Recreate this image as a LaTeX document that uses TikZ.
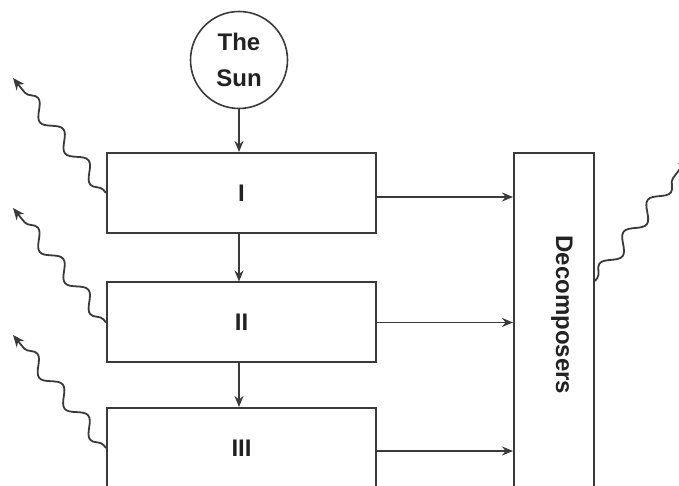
\documentclass[tikz,border=0pt]{standalone}
\usepackage{fontspec}
\setmainfont{Liberation Sans}
\usetikzlibrary{arrows.meta,positioning,decorations.pathmorphing}
\definecolor{ink}{HTML}{3A3A3A}
\definecolor{inktext}{HTML}{222222}
\tikzset{
  levelbox/.style={draw=ink,line width=1pt,minimum width=134.5pt,
                   minimum height=40pt,inner sep=0pt,text=inktext,
                   font=\fontsize{12}{14}\selectfont\bfseries},
  sunnode/.style={circle,draw=ink,line width=0.8pt,minimum size=48.5pt,
                  inner sep=0pt,align=center,text=inktext,
                  font=\fontsize{12}{18}\selectfont\bfseries},
  flowarr/.style={-{Stealth[length=5.5pt,width=4.5pt]},line width=0.9pt,
                  draw=ink},
  heatarr/.style={-{Stealth[length=6pt,width=5pt]},line width=0.9pt,
                  draw=ink,decorate,
                  decoration={snake,segment length=20pt,amplitude=3.5pt,
                              pre length=2pt,post length=7pt}}
}
\begin{document}
\begin{tikzpicture}[x=0.5pt,y=0.5pt]
    \path[use as bounding box] (0,0) rectangle (679,486);
    \clip (0,0) rectangle (679,486);
    % the chain of levels
    \node[sunnode] (sun) at (239,426) {The\\Sun};
    \node[levelbox] (I) at (241.5,293) {I};
    \node[levelbox] (II) at (241.5,163.5) {II};
    \node[levelbox] (III) at (241.5,38) {III};
    \node[draw=ink,line width=1pt,minimum width=40pt,minimum height=168.5pt,
          inner sep=0pt] (deco) at (554,164.5) {};
    \node[rotate=-90,text=inktext,font=\fontsize{12}{14}\selectfont\bfseries]
      (decolabel) at (562,171) {Decomposers};
    % heat lost to the surroundings
    \coordinate (heatI) at (13,408);
    \coordinate (heatII) at (13,278);
    \coordinate (heatIII) at (13,151);
    \coordinate (heatD) at (689,329);
    \draw[flowarr] (sun.south) -- (sun.south |- I.north);
    \draw[flowarr] (sun.south |- I.south) -- (sun.south |- II.north);
    \draw[flowarr] (sun.south |- II.south) -- (sun.south |- III.north);
    \draw[flowarr] ([yshift=-2pt]I.east) -- ([yshift=-2pt]I.east -| deco.west);
    \draw[flowarr] (II.east) -- (II.east -| deco.west);
    \draw[flowarr] ([yshift=-1.5pt]III.east) -- ([yshift=-1.5pt]III.east -| deco.west);
    \draw[heatarr] (I.west) -- (heatI);
    \draw[heatarr] (II.west) -- (heatII);
    \draw[heatarr] (III.west) -- (heatIII);
    \draw[heatarr] ([yshift=-64.5pt]deco.north east) -- (heatD);
  \end{tikzpicture}
\end{document}
